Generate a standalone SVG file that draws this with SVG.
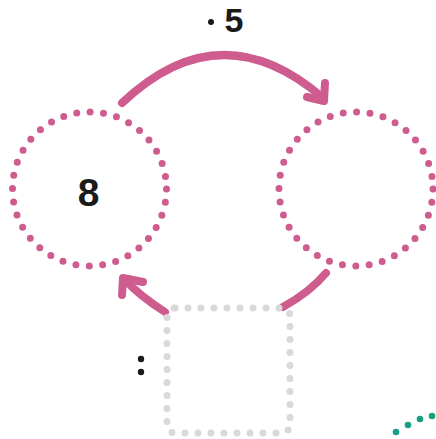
<svg xmlns="http://www.w3.org/2000/svg" width="436" height="439" viewBox="0 0 436 439">
<style>
.ring{fill:none;stroke:#cf5c8f;stroke-width:7;stroke-linecap:round;stroke-dasharray:0 13.44}
.box{fill:none;stroke:#d9d9d9;stroke-width:7;stroke-linecap:round;stroke-dasharray:0 13}
.arc{fill:none;stroke:#cf5c8f;stroke-width:8;stroke-linecap:round;stroke-linejoin:round}
.num{font-family:"Liberation Sans","Noto Sans",sans-serif;font-weight:700;fill:#1a1a1a}
</style>
<rect width="436" height="439" fill="#ffffff"/>
<g id="connectors">
<path class="arc" d="M122,103 Q220,10 322,97"/>
<path class="arc" d="M307,97 L324,101 L325,83"/>
<path class="arc" d="M165,312 Q140,296 125,280"/>
<path class="arc" d="M122,295 L123,278 L143,282"/>
<path class="arc" d="M283,307 Q310,292 326,273"/>
</g>
<g id="node-left">
<circle class="ring" cx="89.5" cy="189" r="77"/>
<text class="num" x="88.5" y="206" font-size="39" text-anchor="middle">8</text>
</g>
<g id="node-right">
<circle class="ring" cx="356" cy="189" r="77"/>
</g>
<g id="node-box">
<rect class="box" x="167" y="308" width="123" height="125" rx="8"/>
</g>
<g id="label-top">
<circle cx="211" cy="22" r="3" fill="#1a1a1a"/>
<text class="num" x="234" y="32" font-size="34" text-anchor="middle">5</text>
</g>
<g id="marks">
<circle cx="141" cy="359" r="3.2" fill="#1a1a1a"/>
<circle cx="141" cy="372" r="3.2" fill="#1a1a1a"/>
<circle cx="396" cy="432" r="3.3" fill="#1a9e82"/>
<circle cx="408" cy="425" r="3.3" fill="#1a9e82"/>
<circle cx="420" cy="419" r="3.3" fill="#1a9e82"/>
<circle cx="432" cy="416" r="3.3" fill="#1a9e82"/>
</g>
</svg>
